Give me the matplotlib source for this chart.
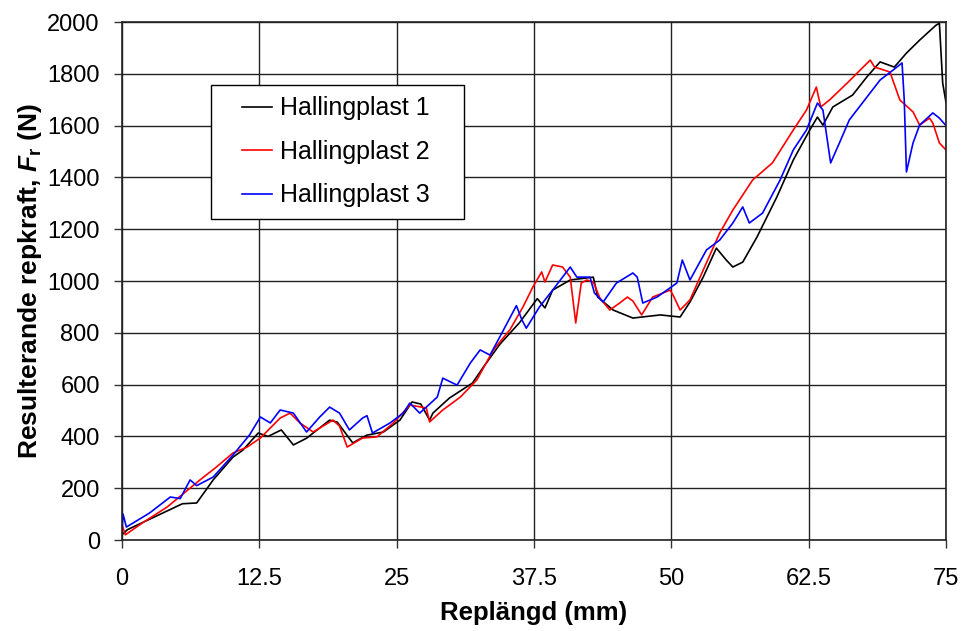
import numpy as np
import matplotlib.pyplot as plt
from matplotlib.legend_handler import HandlerLine2D

plt.rcParams['font.family'] = ['Liberation Sans', 'DejaVu Sans']
plt.rcParams['mathtext.fontset'] = 'custom'
plt.rcParams['mathtext.rm'] = 'Liberation Sans:bold'
plt.rcParams['mathtext.it'] = 'Liberation Sans:bold:italic'

# Hallingplast 1 (black)
x1 = [0, 0.5, 2, 4, 5.5, 6.8, 8.3, 10.1, 11, 12.4, 13.3, 14.5, 15.6, 16.8, 18.9, 19.6,
      21, 22.3, 23.8, 25.3, 26.4, 27.2, 28, 28.3, 29.8, 31.9, 32.9, 34.4, 36.2, 37.8,
      38.5, 39.2, 40.8, 42.9, 43.3, 44.7, 46.5, 49, 50.8, 51.7, 52.9, 54.1, 55, 55.6,
      56.5, 57.8, 59.6, 61.1, 62.6, 63.3, 63.8, 64.7, 66.5, 67.8, 69, 70.3, 71.4, 72.6,
      74.1, 74.4, 74.7, 75]
f1 = [20, 40, 70, 110, 140, 143, 232, 320, 347, 413, 400, 425, 367, 393, 463, 455,
      375, 405, 417, 463, 533, 525, 463, 490, 548, 606, 668, 756, 840, 932,
      896, 965, 1004, 1015, 938, 888, 857, 869, 861, 919, 1015, 1127, 1081, 1054,
      1073, 1170, 1324, 1467, 1583, 1633, 1602, 1672, 1718, 1788, 1846, 1826, 1880, 1930,
      1988, 1995, 1764, 1690]

# Hallingplast 2 (red)
x2 = [0, 0.3, 2, 4.1, 7.1, 8.6, 10.1, 11.4, 12.6, 14.4, 15.3, 16.2, 17.4, 19.2, 19.8,
      20.5, 21.9, 23.2, 24.7, 26.2, 27.7, 28, 29.2, 30.8, 32.3, 33.8, 35.3, 36.5, 37.4,
      38.2, 38.5, 39.2, 40.1, 40.8, 41.3, 41.8, 42.3, 42.9, 43.5, 44.4, 45.3, 46, 46.5,
      47.3, 48.3, 49.9, 50.2, 50.8, 51.7, 52.9, 54.4, 55.6, 57.4, 59.2, 61.1, 62.3, 63.2,
      63.6, 64.4, 66, 67.2, 68.1, 68.5, 69.9, 70.8, 72, 72.6, 73.5, 73.8, 74.4, 75]
f2 = [60, 20, 70, 127, 232, 282, 336, 359, 394, 471, 490, 452, 417, 463, 440,
      359, 394, 398, 452, 521, 510, 456, 502, 552, 618, 734, 811, 900, 977,
      1035, 996, 1062, 1054, 1015, 838, 992, 1004, 996, 934, 888, 915, 938, 923,
      869, 938, 965, 942, 888, 927, 1042, 1185, 1274, 1390, 1456, 1583, 1660, 1749,
      1672, 1699, 1764, 1815, 1853, 1826, 1807, 1699, 1653, 1602, 1629, 1610, 1533, 1506]

# Hallingplast 3 (blue)
x3 = [0, 0.1, 0.4, 2.5, 4.4, 5.3, 6.2, 6.8, 8.3, 10.1, 11.6, 12.6, 13.5, 14.4, 15.6,
      16.8, 18, 18.9, 19.8, 20.7, 21.9, 22.3, 22.8, 24.4, 25.6, 26.2, 27.1, 28.7, 29.2,
      30.5, 31.7, 32.6, 33.5, 34.4, 35.9, 36.4, 36.8, 38, 39.2, 40.8, 41.4, 42.6, 43,
      43.8, 45, 46.5, 46.9, 47.4, 48.7, 50.5, 51, 51.7, 53.2, 54.4, 55.6, 56.5, 57.1,
      58.3, 59.9, 61.1, 62.3, 63.3, 63.8, 64.5, 65.3, 66.2, 67.8, 69, 70.2, 71, 71.2,
      71.4, 72, 72.6, 73.8, 74.4, 75]
f3 = [30, 100, 50, 104, 166, 160, 232, 210, 243, 328, 405, 475, 452, 502, 490,
      417, 475, 513, 490, 425, 471, 480, 413, 452, 490, 529, 490, 552, 625,
      598, 683, 734, 714, 785, 905, 850, 818, 900, 965, 1054, 1015, 1015, 954,
      919, 992, 1031, 1015, 915, 938, 992, 1081, 1004, 1120, 1158, 1224, 1286, 1224,
      1262, 1390, 1506, 1583, 1687, 1660, 1456, 1533, 1622, 1710, 1776, 1815, 1842, 1700,
      1421, 1533, 1602, 1649, 1629, 1600]

xticks = [0, 12.5, 25, 37.5, 50, 62.5, 75]
xticklabels = ['0', '12.5', '25', '37.5', '50', '62.5', '75']


class ShortLine(HandlerLine2D):
    # legend sample line drawn only over the right part of the handle box
    def create_artists(self, legend, orig_handle, xdescent, ydescent,
                       width, height, fontsize, trans):
        arts = super().create_artists(legend, orig_handle, xdescent, ydescent,
                                      width, height, fontsize, trans)
        y = (height - ydescent) / 2
        for a in arts:
            a.set_xdata([-xdescent + 0.4 * width, -xdescent + width])
            a.set_ydata([y, y])
        return arts


fig = plt.figure(figsize=(9.65, 6.31), dpi=100)
ax = fig.add_axes([0.1264, 0.1442, 0.8539, 0.8209])

ax.plot(x1, f1, color='black', lw=1.2, label='Hallingplast 1')
ax.plot(x2, f2, color='#ff0000', lw=1.2, label='Hallingplast 2')
ax.plot(x3, f3, color='#0000ff', lw=1.2, label='Hallingplast 3')

ax.set_xlim(0, 75)
ax.set_ylim(0, 2000)
ax.set_xticks(xticks)
ax.set_xticklabels(xticklabels)
ax.set_yticks(np.arange(0, 2001, 200))
ax.tick_params(labelsize=17, direction='out', length=6, width=1, color='#333333')
ax.tick_params(axis='y', pad=10)
ax.tick_params(axis='x', pad=14)
ax.grid(True, color='#222222', lw=1)
ax.set_axisbelow(True)
for s in ax.spines.values():
    s.set_color('#222222')
    s.set_linewidth(1.2)

ax.set_xlabel('Replängd (mm)', fontsize=18.5, fontweight='bold', labelpad=8)
ax.set_ylabel(r'Resulterande repkraft, $F_\mathrm{r}$ (N)', fontsize=19,
              fontweight='bold', labelpad=2)

leg = ax.legend(loc='upper left', bbox_to_anchor=(0.108, 0.778, 0.307, 0.1),
                mode='expand', fontsize=18, frameon=True, fancybox=False,
                edgecolor='black', framealpha=1, handlelength=2.0,
                handletextpad=0.32, borderpad=0.45, labelspacing=0.78,
                borderaxespad=0, handler_map={plt.Line2D: ShortLine()})
leg.get_frame().set_linewidth(1)
for line in leg.get_lines():
    line.set_linewidth(1.2)

fig.savefig('out.png', dpi=100)
